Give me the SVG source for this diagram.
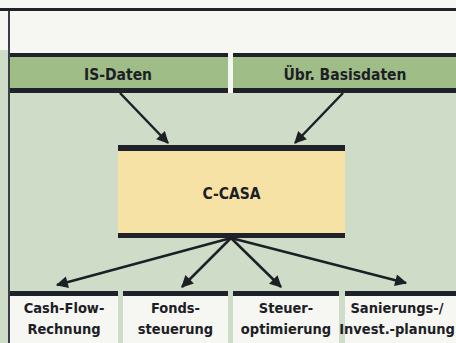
<svg xmlns="http://www.w3.org/2000/svg" width="456" height="343" viewBox="0 0 456 343">
<defs>
<style>
.bar{fill:#1f2329}
.hdr{fill:#9fbd86}
.txt{font-family:"DejaVu Sans Condensed","DejaVu Sans",sans-serif;font-stretch:condensed;font-weight:700;font-size:14.5px;fill:#1c2026;text-anchor:middle}
.big{font-size:15.5px}
.con{stroke:#1c2026;stroke-width:2.5;fill:none;marker-end:url(#ah)}
</style>
<marker id="ah" viewBox="0 0 10 10" refX="9" refY="5" markerWidth="14" markerHeight="12" markerUnits="userSpaceOnUse" orient="auto">
<path d="M0,0 L10,5 L0,10 Z" fill="#1c2026"/>
</marker>
</defs>
<rect x="0" y="0" width="456" height="343" fill="#f6f6f2"/>
<rect x="0" y="50" width="9" height="293" fill="#cfdcc8"/>
<rect x="10" y="93" width="446" height="250" fill="#cfdcc8"/>
<rect x="0" y="8" width="456" height="3" class="bar"/>
<rect x="8" y="11" width="2" height="332" fill="#3a3f48"/>

<g id="is-daten">
<rect x="10" y="53" width="218" height="40" class="hdr"/>
<rect x="10" y="53" width="218" height="4" class="bar"/>
<rect x="10" y="88" width="218" height="5" class="bar"/>
<text x="118" y="79.5" class="txt big">IS-Daten</text>
</g>
<g id="basisdaten">
<rect x="233" y="53" width="223" height="40" class="hdr"/>
<rect x="233" y="53" width="223" height="4" class="bar"/>
<rect x="233" y="88" width="223" height="5" class="bar"/>
<text x="345" y="79.5" class="txt big">Übr. Basisdaten</text>
</g>
<g id="c-casa">
<rect x="118" y="145" width="227" height="93" fill="#f7e2a6"/>
<rect x="118" y="145" width="227" height="6" class="bar"/>
<rect x="118" y="233" width="227" height="5" class="bar"/>
<text x="231.5" y="199" class="txt big">C-CASA</text>
</g>
<g id="cashflow">
<rect x="10" y="291" width="108" height="52" fill="#f6f6f2"/>
<rect x="10" y="291" width="108" height="5" class="bar"/>
<text x="64" y="313" class="txt">Cash-Flow-</text>
<text x="64" y="334" class="txt">Rechnung</text>
</g>
<g id="fonds">
<rect x="123" y="291" width="105" height="52" fill="#f6f6f2"/>
<rect x="123" y="291" width="105" height="5" class="bar"/>
<text x="175.5" y="313" class="txt">Fonds-</text>
<text x="175.5" y="334" class="txt">steuerung</text>
</g>
<g id="steuer">
<rect x="233" y="291" width="106" height="52" fill="#f6f6f2"/>
<rect x="233" y="291" width="106" height="5" class="bar"/>
<text x="286" y="313" class="txt">Steuer-</text>
<text x="286" y="334" class="txt">optimierung</text>
</g>
<g id="sanierung">
<rect x="345" y="291" width="111" height="52" fill="#f6f6f2"/>
<rect x="345" y="291" width="111" height="5" class="bar"/>
<text x="397" y="313" class="txt">Sanierungs-/</text>
<text x="397" y="334" class="txt">Invest.-planung</text>
</g>

<g id="connectors">
<line x1="120" y1="93" x2="168" y2="143" class="con"/>
<line x1="343" y1="93" x2="295" y2="143" class="con"/>
<line x1="231" y1="238" x2="57" y2="285" class="con"/>
<line x1="231" y1="238" x2="182" y2="287" class="con"/>
<line x1="231" y1="238" x2="281" y2="287" class="con"/>
<line x1="231" y1="238" x2="406" y2="283" class="con"/>
</g>
</svg>
